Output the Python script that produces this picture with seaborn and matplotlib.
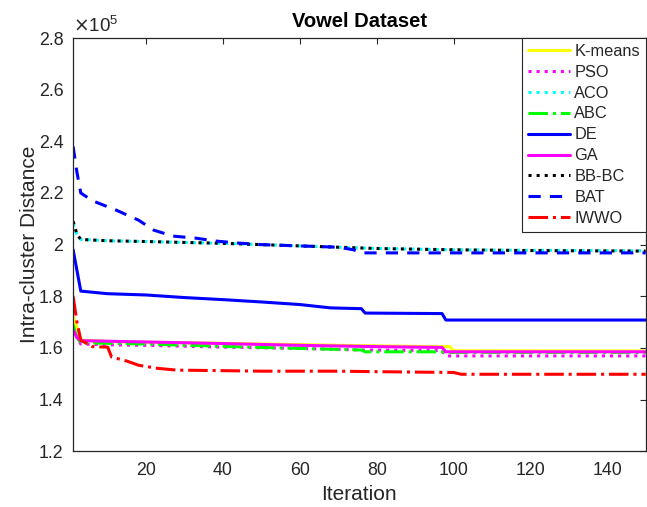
import matplotlib
matplotlib.use("Agg")
import matplotlib.pyplot as plt
import seaborn as sns
import pandas as pd
from matplotlib.ticker import FuncFormatter, MultipleLocator

# ---- data (values in units of 1e5) ----
kmeans_x = [1, 2, 3, 10, 20, 30, 40, 50, 60, 70, 80, 90, 99, 100, 150]
kmeans_y = [1.72, 1.68, 1.63, 1.625, 1.622, 1.62, 1.618, 1.615, 1.613, 1.61, 1.608, 1.606, 1.605, 1.589, 1.588]

pso_x = [1, 2, 3, 10, 20, 40, 60, 76, 97, 98, 150]
pso_y = [1.68, 1.64, 1.615, 1.612, 1.61, 1.603, 1.598, 1.592, 1.59, 1.569, 1.569]

aco_x = [1, 2, 3, 10, 20, 40, 60, 80, 100, 120, 150]
aco_y = [2.08, 2.04, 2.02, 2.015, 2.012, 2.005, 1.995, 1.985, 1.98, 1.978, 1.976]

abc_x = [1, 2, 3, 10, 20, 40, 60, 76, 77, 97, 98, 150]
abc_y = [1.69, 1.64, 1.62, 1.618, 1.615, 1.606, 1.598, 1.592, 1.585, 1.585, 1.583, 1.583]

de_x = [1, 3, 10, 20, 30, 40, 50, 60, 68, 76, 77, 97, 98, 150]
de_y = [1.98, 1.82, 1.81, 1.805, 1.795, 1.787, 1.778, 1.768, 1.755, 1.752, 1.735, 1.733, 1.708, 1.708]

ga_x = [1, 2, 3, 10, 20, 40, 60, 80, 97, 98, 150]
ga_y = [1.67, 1.64, 1.628, 1.626, 1.623, 1.617, 1.61, 1.605, 1.602, 1.585, 1.585]

bbbc_x = [1, 2, 3, 10, 20, 40, 60, 80, 100, 120, 150]
bbbc_y = [2.09, 2.04, 2.02, 2.015, 2.012, 2.005, 1.995, 1.985, 1.98, 1.977, 1.975]

bat_x = [1, 2, 3, 6, 12, 18, 22, 27, 33, 38, 44, 50, 60, 70, 74, 76, 100, 150]
bat_y = [2.38, 2.28, 2.20, 2.17, 2.135, 2.095, 2.056, 2.033, 2.025, 2.014, 2.006, 2.0, 1.995, 1.99, 1.98, 1.968, 1.968, 1.968]

iwwo_x = [1, 2, 3, 6, 10, 11, 15, 18, 23, 28, 40, 50, 70, 80, 100, 102, 150]
iwwo_y = [1.80, 1.70, 1.63, 1.605, 1.603, 1.565, 1.549, 1.533, 1.521, 1.514, 1.512, 1.51, 1.51, 1.508, 1.505, 1.498, 1.498]

labels = ["K-means", "PSO", "ACO", "ABC", "DE", "GA", "BB-BC", "BAT", "IWWO"]
xs = [kmeans_x, pso_x, aco_x, abc_x, de_x, ga_x, bbbc_x, bat_x, iwwo_x]
ys = [kmeans_y, pso_y, aco_y, abc_y, de_y, ga_y, bbbc_y, bat_y, iwwo_y]

colors = ["#ffff00", "#ff00ff", "#00ffff", "#00ff00", "#0000ff", "#ff00ff", "#000000", "#0000ff", "#ff0000"]
styles = ["-", ":", ":", "-.", "-", "-", ":", (0, (4, 3)), "-."]

sns.set_theme(style="white")
plt.rcParams["font.family"] = ["Liberation Sans", "DejaVu Sans"]

fig = plt.figure(figsize=(6.47, 5.07), dpi=100)
ax = fig.add_axes([0.113, 0.110, 0.885, 0.815])

for lab, x, y, c, ls in zip(labels, xs, ys, colors, styles):
    df = pd.DataFrame({"Iteration": x, "val": [v * 1e5 for v in y]})
    sns.lineplot(data=df, x="Iteration", y="val", ax=ax, color=c, linestyle=ls,
                 linewidth=2.2, label=lab, sort=False, estimator=None)

ax.set_xlim(1, 150)
ax.set_ylim(1.2e5, 2.8e5)
ax.xaxis.set_major_locator(MultipleLocator(20))
ax.yaxis.set_major_locator(MultipleLocator(0.2e5))
ax.yaxis.set_major_formatter(FuncFormatter(lambda v, p: "%g" % round(v / 1e5, 2)))

ax.tick_params(direction="in", length=4, width=0.8, colors="#262626",
               top=True, right=True, labelsize=12.8)
ax.tick_params(axis="y", pad=7)
ax.tick_params(axis="x", pad=8)
for s in ax.spines.values():
    s.set_color("#262626")
    s.set_linewidth(0.9)

ax.set_xlabel("Iteration", fontsize=15, color="#262626", labelpad=4)
ax.set_ylabel("Intra-cluster Distance", fontsize=15, color="#262626", labelpad=0)
ax.set_title("Vowel Dataset", fontsize=14.5, fontweight="bold", color="black", pad=8)
ax.text(0.0, 1.004, r"$\times\mathregular{10^5}$", transform=ax.transAxes,
        ha="left", va="bottom", fontsize=13.5, color="#262626")

leg = ax.legend(loc="upper right", bbox_to_anchor=(1.0, 1.0), borderaxespad=0,
                fontsize=11.8, frameon=True, fancybox=False, framealpha=1,
                edgecolor="#262626", handlelength=2.6, handletextpad=0.25,
                labelspacing=0.36, borderpad=0.35)
leg.get_frame().set_linewidth(0.8)

fig.savefig("out.png", dpi=100)
